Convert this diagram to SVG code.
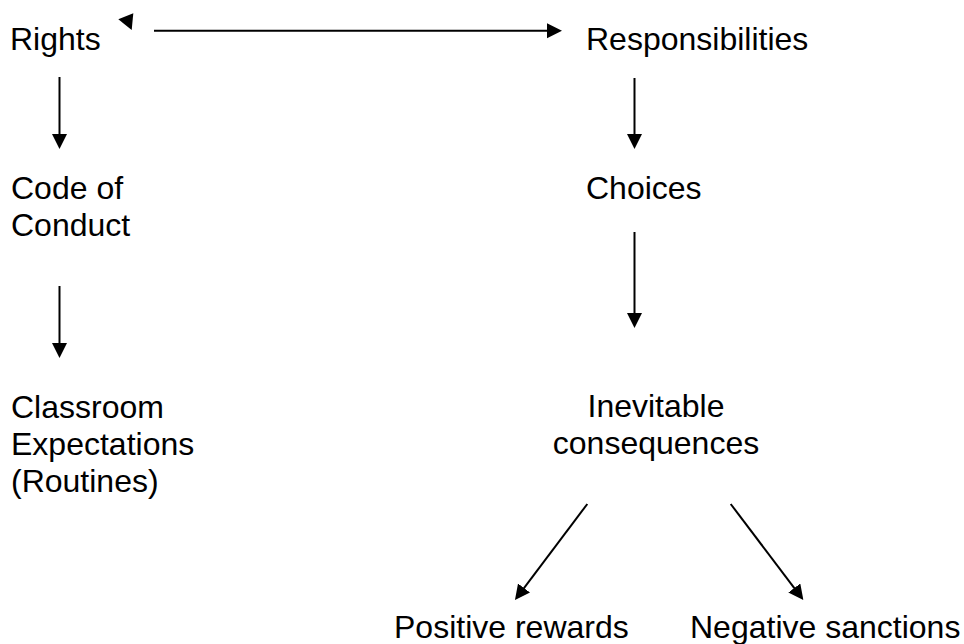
<svg xmlns="http://www.w3.org/2000/svg" width="964" height="644" viewBox="0 0 964 644">
<style>
  text { font-family: "Liberation Sans", Arial, sans-serif; font-size: 32px; fill: #000; }
  .c { stroke: #000; stroke-width: 2; fill: none; marker-end: url(#ah); }
</style>
<defs>
  <marker id="ah" markerUnits="userSpaceOnUse" markerWidth="16" markerHeight="16" viewBox="0 0 16 16" refX="1" refY="7.5" orient="auto">
    <path d="M0,0 L15,7.5 L0,15 Z" fill="#000"/>
  </marker>
</defs>
<rect width="964" height="644" fill="#fff"/>
<g id="connectors">
  <polygon points="118.3,19.3 133.3,13.3 131.7,30" fill="#000"/>
  <line class="c" x1="154" y1="30.7" x2="548" y2="30.7"/>
  <line class="c" x1="59.5" y1="77" x2="59.5" y2="135"/>
  <line class="c" x1="59.5" y1="286" x2="59.5" y2="344"/>
  <line class="c" x1="634.5" y1="78" x2="634.5" y2="135"/>
  <line class="c" x1="634.5" y1="232" x2="634.5" y2="314"/>
  <line class="c" x1="587.3" y1="504" x2="523.4" y2="588.8"/>
  <line class="c" x1="730.7" y1="504" x2="794.9" y2="588.8"/>
</g>
<g id="rights"><text x="10" y="50">Rights</text></g>
<g id="responsibilities"><text x="586" y="50">Responsibilities</text></g>
<g id="code"><text x="11" y="198.5">Code of</text><text x="11" y="235.5">Conduct</text></g>
<g id="choices"><text x="586" y="199">Choices</text></g>
<g id="classroom"><text x="11" y="418">Classroom</text><text x="11" y="455">Expectations</text><text x="11" y="492">(Routines)</text></g>
<g id="consequences"><text x="656" y="417" text-anchor="middle">Inevitable</text><text x="656" y="454" text-anchor="middle">consequences</text></g>
<g id="positive"><text x="394" y="638">Positive rewards</text></g>
<g id="negative"><text x="690" y="638">Negative sanctions</text></g>
</svg>
